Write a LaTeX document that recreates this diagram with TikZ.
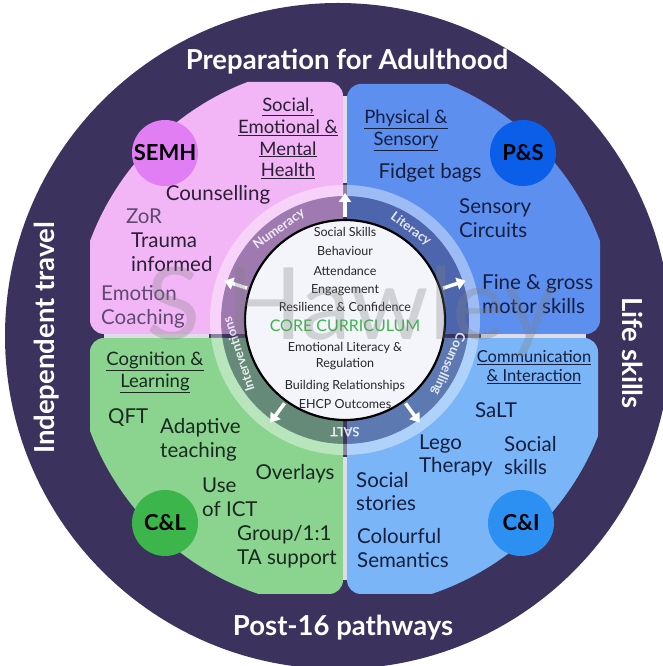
\documentclass[tikz,border=0pt]{standalone}
\usepackage{fontspec}
\setmainfont{Lato}
\usetikzlibrary{calc,arrows.meta}
\definecolor{navy}{RGB}{59,50,94}
\definecolor{pinkq}{RGB}{242,182,246}
\definecolor{blueq}{RGB}{93,143,239}
\definecolor{greenq}{RGB}{138,212,144}
\definecolor{lblueq}{RGB}{121,181,247}
\definecolor{semhc}{RGB}{226,126,243}
\definecolor{psc}{RGB}{10,94,232}
\definecolor{clc}{RGB}{60,181,74}
\definecolor{cic}{RGB}{43,144,242}
\definecolor{corefill}{RGB}{243,245,251}
\definecolor{gapc}{RGB}{222,220,232}
\definecolor{corecur}{RGB}{60,180,74}
\definecolor{darkpurple}{RGB}{42,32,52}
\definecolor{softpurple}{RGB}{93,74,112}
\definecolor{darkblue}{RGB}{22,30,62}
\definecolor{darkgreen}{RGB}{27,40,31}
\tikzset{
  badge/.style={circle, minimum size=66pt, inner sep=0pt, text=black,
    font=\bfseries\fontsize{22}{24}\selectfont},
  item/.style={inner sep=0pt, align=left, font=\fontsize{20.5}{23.8}\selectfont},
  heading/.style={inner sep=0pt, align=center, font=\fontsize{18.5}{21.7}\selectfont},
  banner/.style={inner sep=0pt, text=white, font=\bfseries\fontsize{27.5}{30}\selectfont},
  ringlbl/.style={inner sep=0pt, text=white, opacity=0.85, font=\bfseries\fontsize{13}{14}\selectfont},
  coreline/.style={inner sep=0pt, text=black!85, font=\fontsize{12.5}{14}\selectfont},
}
\begin{document}
\begin{tikzpicture}[x=1pt,y=1pt]
\useasboundingbox (0,0) rectangle (663,666);
\clip (0,0) rectangle (663,666);
% outer band
\fill[navy] (338,330) circle (333);
\coordinate (C) at (345,330);
\coordinate (K) at (345,346);
% the four areas
\begin{scope}
  \clip[rounded corners=14pt] (90,332) rectangle (343,584);
  \fill[pinkq] (C) circle (272);
\end{scope}
\begin{scope}
  \clip[rounded corners=14pt] (347,332) rectangle (600,582);
  \fill[blueq] (C) circle (272);
\end{scope}
\begin{scope}
  \clip[rounded corners=14pt] (90,72) rectangle (343,328);
  \fill[greenq] (C) circle (272);
\end{scope}
\begin{scope}
  \clip[rounded corners=14pt] (347,72) rectangle (598,328);
  \fill[lblueq] (C) circle (272);
\end{scope}
\draw[gapc, line width=4pt] (345,483) -- (345,570);
\draw[gapc, line width=4pt] (345,86) -- (345,209);
\draw[gapc, line width=4pt] (104,330) -- (209,330);
\draw[gapc, line width=4pt] (481,330) -- (586,330);
% ring round the core
\fill[navy, opacity=0.45, even odd rule] (K) circle (124) (K) circle (100);
\fill[white, opacity=0.4, even odd rule] (K) circle (135) (K) circle (124);
\foreach \a in {90,162,18,306,234}
  \draw[white, line width=3.5pt, -{Triangle[width=12pt,length=9pt]}]
    ($(K)+(\a:103)$) -- ($(K)+(\a:127)$);
\node[ringlbl, rotate=36] (numeracy) at ($(K)+(126:112)$) {Numeracy};
\node[ringlbl, rotate=-36] (literacy) at ($(K)+(54:112)$) {Literacy};
\node[ringlbl, rotate=-113] (counsring) at ($(K)+(-23:112)$) {Counselling};
\node[ringlbl, rotate=180] (saltring) at ($(K)+(270:112)$) {SALT};
\node[ringlbl, rotate=108] (interv) at ($(K)+(198:112)$) {Interventions};
% core
\fill[corefill] (K) circle (100);
\draw[black, line width=2.2pt] (K) circle (100);
\foreach \yy/\txt [count=\i] in {434/Social Skills, 415/Behaviour, 395/Attendance,
    376/Engagement, 359/Resilience \& Confidence, 318.5/Emotional Literacy \&,
    302/Regulation, 280/Building Relationships, 262/EHCP Outcomes}
  \node[coreline] (core\i) at (345,\yy) {\txt};
\node[inner sep=0pt, text=corecur, font=\fontsize{16}{18}\selectfont] (corecur) at (345,340.5) {CORE CURRICULUM};
% banners
\node[banner] (prep) at (347,604) {Preparation for Adulthood};
\node[banner] (post) at (343,38) {Post-16 pathways};
\node[banner, rotate=90] (indep) at (47,328) {Independent travel};
\node[banner, rotate=-90] (life) at (633,313) {Life skills};
% headings
\node[heading, text=darkpurple] (semhhead) at (288,527.5)
  {\underline{Social,}\\\underline{Emotional \&}\\\underline{Mental}\\\underline{Health}};
\node[heading, text=darkblue] (pshead) at (406,535.5)
  {\underline{Physical \&}\\\underline{Sensory}};
\node[heading, text=darkgreen] (clhead) at (155,293.5)
  {\underline{Cognition \&}\\\underline{Learning}};
\node[heading, text=darkblue, font=\fontsize{16.5}{19}\selectfont] (cihead) at (534,299)
  {\underline{Communication}\\\underline{\& Interaction}};
% badges
\node[badge, fill=semhc] (semh) at (165,513) {SEMH};
\node[badge, fill=psc] (ps) at (523,513) {P\&S};
\node[badge, fill=clc] (cl) at (165,143) {C\&L};
\node[badge, fill=cic] (ci) at (521,143) {C\&I};
% SEMH items
\node[item, text=darkpurple] (counselling) at (218,471) {Counselling};
\node[item, text=softpurple] (zor) at (144,450) {ZoR};
\node[item, text=darkpurple, anchor=west] (trauma) at (131,413.5) {Trauma\\informed};
\node[item, text=softpurple, anchor=west] (emotion) at (101,359.5) {Emotion\\Coaching};
% P&S items
\node[item, text=darkblue] (fidget) at (430,493) {Fidget bags};
\node[item, text=darkblue, anchor=west] (sensory) at (459,448) {Sensory\\Circuits};
\node[item, text=darkblue, anchor=west] (motor) at (482,371.5) {Fine \& gross\\motor skills};
% C&L items
\node[item, text=darkgreen, anchor=west] (qft) at (108,248) {QFT};
\node[item, text=darkgreen, anchor=west] (adaptive) at (160,226) {Adaptive\\teaching};
\node[item, text=darkgreen] (overlays) at (295,192) {Overlays};
\node[item, text=darkgreen, anchor=west] (ict) at (202,168.5) {Use\\of ICT};
\node[item, text=darkgreen, anchor=west] (group) at (237,119) {Group/1:1\\TA support};
% C&I items
\node[item, text=darkblue] (saltitem) at (496,256) {SaLT};
\node[item, text=darkblue, anchor=west] (lego) at (419,210.5) {Lego\\Therapy};
\node[item, text=darkblue, anchor=west] (socskills) at (504,210.5) {Social\\skills};
\node[item, text=darkblue, anchor=west] (stories) at (356,174.5) {Social\\stories};
\node[item, text=darkblue, anchor=west] (semantics) at (357,118) {Colourful\\Semantics};
% watermark
\node[inner sep=0pt, text=gray, opacity=0.3, font=\fontsize{100}{100}\selectfont] (mark) at (351,355) {S Hawley};
\end{tikzpicture}
\end{document}
